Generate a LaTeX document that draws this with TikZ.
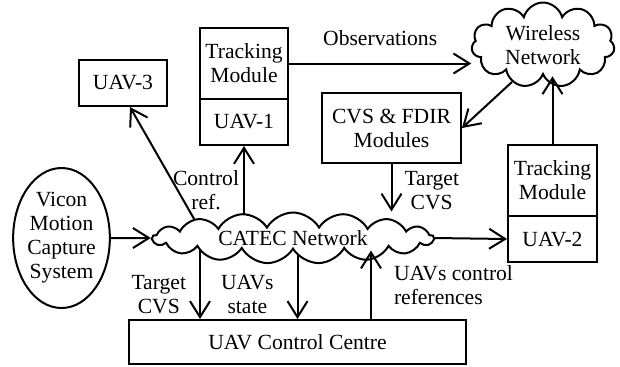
\documentclass[tikz,border=0pt]{standalone}
\usepackage{fontspec}
\setmainfont{Liberation Serif}
\usetikzlibrary{positioning,shapes.geometric,shapes.symbols,arrows.meta,backgrounds}

\tikzset{
	blk/.style={draw, line width=1pt, align=center, inner sep=2pt},
	cloudy/.style={draw, fill=white, cloud, cloud ignores aspect, line width=1pt, align=center, inner sep=0pt},
	arr/.style={-{Straight Barb[length=8pt,width=10pt]}, line width=1pt},
	lbl/.style={align=center, inner sep=1pt},
}

\begin{document}
\begin{tikzpicture}[x=0.5pt,y=-0.5pt,font=\fontsize{10.8}{12}\selectfont]
	\useasboundingbox (0,0) rectangle (620,366);
	% on-board side
	\node[blk, minimum width=44pt, minimum height=23pt] (uav3) at (123,83) {UAV-3};
	\node[blk, minimum width=44pt, minimum height=35.5pt] (trk1) at (244,63.5) {Tracking\\Module};
	\node[blk, minimum width=44pt, minimum height=23pt, below=-1pt of trk1] (uav1) {UAV-1};
	\node[cloudy, cloud puffs=11, minimum width=71.5pt, minimum height=42.5pt] (wless) at (543,45) {Wireless\\Network};
	\node[blk, minimum width=69.5pt, minimum height=35pt] (cvs) at (391.5,128) {CVS \& FDIR\\Modules};
	\node[blk, minimum width=44.5pt, minimum height=35.5pt] (trk2) at (552.5,180.5) {Tracking\\Module};
	\node[blk, minimum width=44.5pt, minimum height=23pt, below=-1pt of trk2] (uav2) {UAV-2};
	% ground side
	\node[cloudy, cloud puffs=17, cloud puff arc=120, minimum width=140.5pt, minimum height=25.5pt] (catec) at (293,238) {CATEC Network};
	\node[draw, ellipse, line width=1pt, align=center, inner sep=0pt, minimum width=46.5pt, minimum height=70pt] (vicon) at (61.5,238) {Vicon\\Motion\\Capture\\System};
	\node[blk, minimum width=168.5pt, minimum height=22pt] (ucc) at (297.5,342) {UAV Control Centre};
	% links
	\draw[arr] (trk1.east) -- node[lbl, above=7.5pt] (obs) {Observations} (trk1.east -| wless.west);
	\draw[arr] (wless.230) -- (cvs.east);
	\draw[arr] (trk2.north) -- (trk2.north |- wless.south);
	\draw[arr] (cvs.south) -- node[lbl, right=5pt, pos=0.56] (tgt1) {Target\\CVS} (cvs.south |- catec.north);
	\draw[arr] (catec.east) -- (uav2.west);
	\draw[arr] (vicon.east) -- (catec.west);
	\draw[arr] ([xshift=36.75pt]ucc.north) -- node[lbl, right=10pt, align=left] (refs) {UAVs control\\references} ([xshift=36.75pt]ucc.north |- catec.south);
	% leaving the cloud (tails hidden under it)
	\begin{scope}[on background layer]
		\draw[arr] ([xshift=-44pt]catec.center) -- ([xshift=3.5pt]uav3.south);
		\draw[arr] (uav1.south |- catec.center) -- node[lbl, left=1pt, pos=0.52] (ctl) {Control\\ref.} (uav1.south);
		\draw[arr] ([xshift=-48.75pt]ucc.north |- catec.center) -- node[lbl, left=5.5pt, pos=0.7] (tgt2) {Target\\CVS} ([xshift=-48.75pt]ucc.north);
		\draw[arr] (ucc.north |- catec.center) -- node[lbl, left=10.5pt, pos=0.7] (state) {UAVs\\state} (ucc.north);
	\end{scope}
\end{tikzpicture}
\end{document}
